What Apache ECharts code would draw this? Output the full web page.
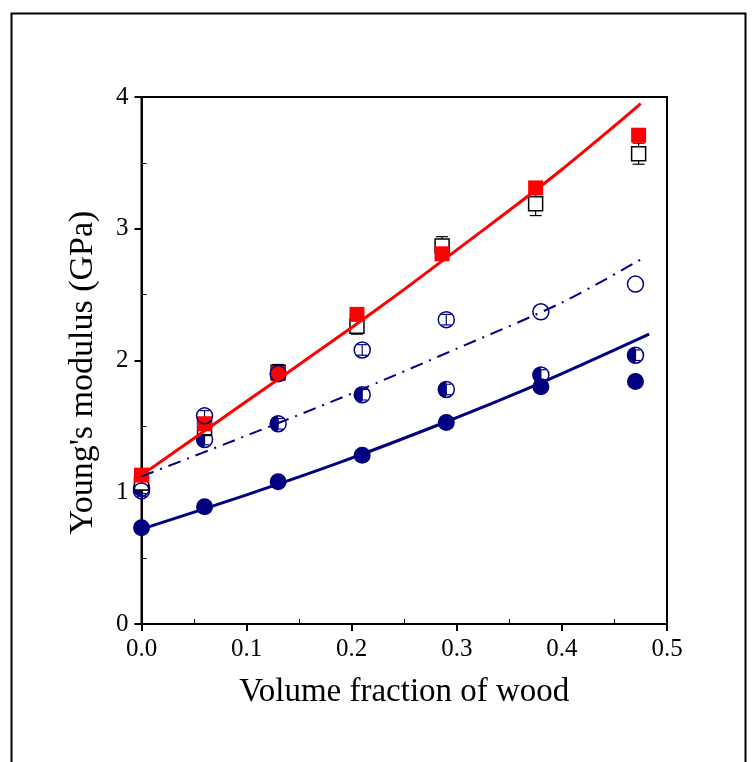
<!DOCTYPE html>
<html>
<head>
<meta charset="utf-8">
<script src="https://cdn.jsdelivr.net/npm/echarts@6/dist/echarts.min.js"></script>
<style>
  html, body { margin: 0; padding: 0; background: #fff; }
  #chart { width: 752px; height: 762px; }
</style>
</head>
<body>
<div id="chart"></div>
<script>
// measured points (volume fraction of wood vs Young's modulus, GPa)
var sqX = [0, 0.06, 0.13, 0.205, 0.286, 0.375, 0.473];
var redSqY = [1.13, 1.52, 1.90, 2.35, 2.81, 3.31, 3.71];
var openSqY = [1.07, 1.49, 1.91, 2.26, 2.87, 3.19, 3.57];
var openSqErr = [0.05, 0.06, 0.06, 0.06, 0.07, 0.09, 0.08];

var circX = [0, 0.06, 0.13, 0.21, 0.29, 0.38, 0.47];
var openCircY = [1.01, 1.58, 1.90, 2.08, 2.31, 2.37, 2.58];
var openCircErr = [0.04, 0.04, 0.04, 0.04, 0.04, 0, 0];
var halfCircY = [1.03, 1.40, 1.52, 1.74, 1.78, 1.89, 2.04];
var halfCircErr = [0.04, 0.04, 0.04, 0.04, 0.04, 0.04, 0.04];
var fullCircY = [0.73, 0.89, 1.08, 1.28, 1.53, 1.80, 1.84];

// model curves
var redFitX = [0, 0.05, 0.1, 0.15, 0.2, 0.25, 0.3, 0.35, 0.4, 0.45, 0.475];
var redFitY = [1.13, 1.41, 1.69, 1.97, 2.25, 2.54, 2.84, 3.14, 3.45, 3.78, 3.95];
var dashFitX = [0, 0.1, 0.2, 0.3, 0.4, 0.478];
var dashFitY = [1.12, 1.43, 1.75, 2.09, 2.44, 2.78];
var navyFitX = [0, 0.1, 0.19, 0.29, 0.38, 0.483];
var navyFitY = [0.72, 0.98, 1.23, 1.535, 1.83, 2.20];

var xTicks = [0, 0.1, 0.2, 0.3, 0.4, 0.5];
var yTicks = [0, 1, 2, 3, 4];

var FONT = 'Liberation Serif';
var NAVY = '#000080';

function pairs(xs, ys) {
	return xs.map(function (x, i) { return [x, ys[i]]; });
}

function errBars(xs, ys, es, color, cap) {
	return {
		type: 'custom',
		silent: true,
		data: xs.map(function (x, i) { return [x, ys[i], es[i]]; }),
		encode: { x: 0, y: 1 },
		renderItem: function (params, api) {
			var x = api.value(0), y = api.value(1), e = api.value(2);
			if (!e) return null;
			var t = api.coord([x, y + e]);
			var b = api.coord([x, y - e]);
			var st = { stroke: color, lineWidth: 1.2 };
			return {
				type: 'group',
				children: [
					{ type: 'line', shape: { x1: t[0], y1: t[1], x2: b[0], y2: b[1] }, style: st },
					{ type: 'line', shape: { x1: t[0] - cap, y1: t[1], x2: t[0] + cap, y2: t[1] }, style: st },
					{ type: 'line', shape: { x1: b[0] - cap, y1: b[1], x2: b[0] + cap, y2: b[1] }, style: st }
				]
			};
		}
	};
}

// second (hidden) axis only carries the inward minor ticks
function minorAxis(base, interval) {
	return {
		type: 'value',
		min: base[0], max: base[base.length - 1], interval: interval,
		axisLine: { show: false },
		axisTick: { show: false, inside: true },
		minorTick: { show: true, splitNumber: 2, length: 5, lineStyle: { color: '#000', width: 1 } },
		splitLine: { show: false },
		axisLabel: { show: false }
	};
}

var chart = echarts.init(document.getElementById('chart'));

var option = {
	backgroundColor: '#fff',
	animation: false,
	graphic: [{
		type: 'rect',
		left: 9, top: 11,
		shape: { x: 0, y: 0, width: 734, height: 800 },
		style: { fill: 'none', stroke: '#000', lineWidth: 2 },
		silent: true
	}],
	grid: {
		left: 141.5, right: 85, top: 97, bottom: 138,
		show: true, borderColor: '#000', borderWidth: 2, backgroundColor: 'transparent'
	},
	xAxis: [{
		type: 'value',
		min: xTicks[0], max: xTicks[xTicks.length - 1], interval: 0.1,
		name: 'Volume fraction of wood',
		nameLocation: 'middle', nameGap: 52,
		nameTextStyle: { fontFamily: FONT, fontSize: 33, color: '#000' },
		axisLine: { show: true, lineStyle: { color: '#000', width: 2 } },
		axisTick: { show: true, length: 7, lineStyle: { color: '#000', width: 2 } },
		splitLine: { show: false },
		axisLabel: {
			fontFamily: FONT, fontSize: 25, color: '#000', margin: 13,
			formatter: function (v) { return v.toFixed(1); }
		}
	}, Object.assign(minorAxis(xTicks, 0.1), { position: 'bottom' })],
	yAxis: [{
		type: 'value',
		min: yTicks[0], max: yTicks[yTicks.length - 1], interval: 1,
		name: "Young's modulus (GPa)",
		nameLocation: 'middle', nameGap: 41,
		nameTextStyle: { fontFamily: FONT, fontSize: 34, color: '#000', padding: [0, 24, 0, 0] },
		axisLine: { show: true, lineStyle: { color: '#000', width: 2 } },
		axisTick: { show: true, length: 7, lineStyle: { color: '#000', width: 2 } },
		splitLine: { show: false },
		axisLabel: { fontFamily: FONT, fontSize: 25, color: '#000', margin: 13 }
	}, Object.assign(minorAxis(yTicks, 1), { position: 'left' })],
	series: [
		errBars(sqX, openSqY, openSqErr, '#000', 6),
		{
			type: 'scatter', data: pairs(sqX, openSqY),
			symbol: 'rect', symbolSize: 14,
			itemStyle: { color: '#fff', borderColor: '#000', borderWidth: 1.5, opacity: 1 }
		},
		{
			type: 'scatter', data: pairs(sqX, redSqY),
			symbol: 'rect', symbolSize: 15,
			itemStyle: { color: '#ff0000', opacity: 1 }
		},
		{
			type: 'scatter', data: pairs(circX, openCircY),
			symbol: 'circle', symbolSize: 16,
			itemStyle: { color: 'rgba(255,255,255,0)', borderColor: NAVY, borderWidth: 1.5, opacity: 1 }
		},
		errBars(circX, openCircY, openCircErr, NAVY, 5),
		{
			type: 'custom',
			data: pairs(circX, halfCircY),
			encode: { x: 0, y: 1 },
			renderItem: function (params, api) {
				var p = api.coord([api.value(0), api.value(1)]);
				return {
					type: 'group',
					children: [
						{ type: 'sector', shape: { cx: p[0], cy: p[1], r0: 0, r: 8, startAngle: Math.PI / 2, endAngle: Math.PI * 1.5, clockwise: true }, style: { fill: NAVY } },
						{ type: 'circle', shape: { cx: p[0], cy: p[1], r: 8 }, style: { fill: 'none', stroke: NAVY, lineWidth: 1.5 } }
					]
				};
			}
		},
		errBars(circX, halfCircY, halfCircErr, NAVY, 5),
		{
			type: 'scatter', data: pairs(circX, fullCircY),
			symbol: 'circle', symbolSize: 17,
			itemStyle: { color: NAVY, opacity: 1 }
		},
		{
			type: 'line', data: pairs(redFitX, redFitY), smooth: 0.3,
			showSymbol: false, lineStyle: { color: '#ff0000', width: 3 }
		},
		{
			type: 'line', data: pairs(dashFitX, dashFitY), smooth: 0.3,
			showSymbol: false, lineStyle: { color: NAVY, width: 2, type: [13, 7, 2, 7] }
		},
		{
			type: 'line', data: pairs(navyFitX, navyFitY), smooth: 0.3,
			showSymbol: false, lineStyle: { color: NAVY, width: 3 }
		}
	]
};

chart.setOption(option);
</script>
</body>
</html>
